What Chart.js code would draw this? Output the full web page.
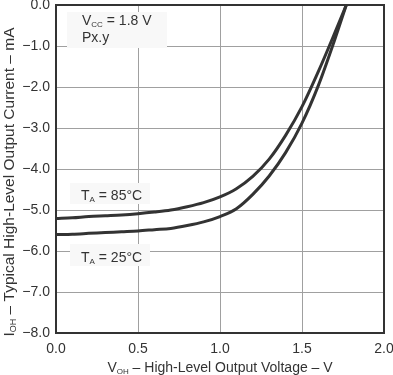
<!DOCTYPE html>
<html>
<head>
<meta charset="utf-8">
<script src="https://cdn.jsdelivr.net/npm/chart.js@4/dist/chart.umd.min.js"></script>
<style>
    html, body { margin: 0; padding: 0; background: #fff; }
    #wrap { width: 393px; height: 375px; position: relative; }
</style>
</head>
<body>
<div id="wrap"><canvas id="chart"></canvas></div>
<script>
// V_OH (V) vs I_OH (mA)
const voltage_85 = [0, 0.1, 0.2, 0.3, 0.4, 0.5, 0.6, 0.7, 0.8, 0.9, 1.0, 1.1, 1.2, 1.3, 1.4, 1.5, 1.6, 1.7, 1.77];
const current_85 = [-5.21, -5.19, -5.16, -5.14, -5.12, -5.09, -5.05, -5.0, -4.92, -4.82, -4.68, -4.48, -4.18, -3.76, -3.18, -2.48, -1.62, -0.68, 0];

const voltage_25 = [0, 0.1, 0.2, 0.3, 0.4, 0.5, 0.6, 0.7, 0.8, 0.9, 1.0, 1.1, 1.2, 1.3, 1.4, 1.5, 1.6, 1.7, 1.77];
const current_25 = [-5.60, -5.59, -5.57, -5.55, -5.53, -5.51, -5.48, -5.45, -5.38, -5.29, -5.16, -4.97, -4.62, -4.17, -3.60, -2.88, -1.96, -0.84, 0];

const x_ticks = [0, 0.5, 1.0, 1.5, 2.0];
const y_ticks = [0, -1, -2, -3, -4, -5, -6, -7, -8];

const FONT = '"Liberation Sans", Arial, sans-serif';
const INK = '#333';

function toPoints(xs, ys) {
    return xs.map((x, i) => ({ x: x, y: ys[i] }));
}

// main text, then a small subscript, then the rest
function subText(ctx, x, y, main, sub, rest, size) {
    ctx.font = `${size}px ${FONT}`;
    ctx.fillText(main, x, y);
    x += ctx.measureText(main).width;
    ctx.font = `${Math.round(size * 0.6)}px ${FONT}`;
    ctx.fillText(sub, x, y + 2);
    x += ctx.measureText(sub).width;
    ctx.font = `${size}px ${FONT}`;
    ctx.fillText(rest, x, y);
}

function subWidth(ctx, main, sub, rest, size) {
    ctx.font = `${size}px ${FONT}`;
    let w = ctx.measureText(main).width + ctx.measureText(rest).width;
    ctx.font = `${Math.round(size * 0.6)}px ${FONT}`;
    return w + ctx.measureText(sub).width;
}

const labelsPlugin = {
    id: 'labels',
    beforeDatasetsDraw(chart) {
        const ctx = chart.ctx;
        ctx.save();
        ctx.fillStyle = '#f8f8f8';
        ctx.fillRect(67, 12, 100, 36);
        ctx.fillRect(70, 183, 80, 21);
        ctx.fillRect(70, 244, 80, 22);

        ctx.fillStyle = INK;
        ctx.textBaseline = 'alphabetic';
        ctx.textAlign = 'left';
        subText(ctx, 82, 25, 'V', 'CC', ' = 1.8 V', 14);
        ctx.font = `14px ${FONT}`;
        ctx.fillText('Px.y', 82, 42);
        subText(ctx, 81, 200, 'T', 'A', ' = 85°C', 14);
        subText(ctx, 81, 262, 'T', 'A', ' = 25°C', 14);
        ctx.restore();
    },
    afterDraw(chart) {
        const ctx = chart.ctx;
        const a = chart.chartArea;
        ctx.save();
        ctx.strokeStyle = INK;
        ctx.lineWidth = 2;
        ctx.strokeRect(a.left, a.top, a.right - a.left, a.bottom - a.top);

        ctx.fillStyle = INK;
        ctx.textBaseline = 'alphabetic';
        ctx.textAlign = 'left';

        // x axis title
        let w = subWidth(ctx, 'V', 'OH', ' – High-Level Output Voltage – V', 14);
        subText(ctx, (a.left + a.right) / 2 - w / 2, 372, 'V', 'OH', ' – High-Level Output Voltage – V', 14);

        // y axis title
        ctx.translate(14, 182);
        ctx.rotate(-Math.PI / 2);
        w = subWidth(ctx, 'I', 'OH', ' – Typical High-Level Output Current – mA', 15.5);
        subText(ctx, -w / 2, 0, 'I', 'OH', ' – Typical High-Level Output Current – mA', 15.5);
        ctx.restore();
    }
};

const config = {
    type: 'scatter',
    data: {
        datasets: [{
            label: 'TA = 85°C',
            data: toPoints(voltage_85, current_85),
            showLine: true,
            borderColor: INK,
            borderWidth: 3,
            pointRadius: 0,
            cubicInterpolationMode: 'monotone'
        }, {
            label: 'TA = 25°C',
            data: toPoints(voltage_25, current_25),
            showLine: true,
            borderColor: INK,
            borderWidth: 3,
            pointRadius: 0,
            cubicInterpolationMode: 'monotone'
        }]
    },
    options: {
        responsive: true,
        maintainAspectRatio: false,
        animation: false,
        layout: { padding: { top: 5, right: 9, left: 0, bottom: 0 } },
        plugins: {
            legend: { display: false },
            tooltip: { enabled: false }
        },
        scales: {
            x: {
                type: 'linear',
                min: 0,
                max: 2,
                afterBuildTicks: scale => { scale.ticks = x_ticks.map(v => ({ value: v })); },
                afterFit: scale => { scale.height = 42; scale.paddingLeft = 0; scale.paddingRight = 0; },
                grid: { color: '#a0a0a0', lineWidth: 1, drawTicks: false },
                border: { display: false },
                ticks: {
                    padding: 8,
                    color: INK,
                    font: { family: FONT, size: 14 },
                    callback: v => v.toFixed(1)
                }
            },
            y: {
                type: 'linear',
                min: -8,
                max: 0,
                afterBuildTicks: scale => { scale.ticks = y_ticks.map(v => ({ value: v })); },
                afterFit: scale => { scale.width = 56; scale.paddingTop = 0; scale.paddingBottom = 0; },
                grid: { color: '#a0a0a0', lineWidth: 1, drawTicks: false },
                border: { display: false },
                ticks: {
                    padding: 6,
                    color: INK,
                    font: { family: FONT, size: 14 },
                    callback: v => (v === 0 ? '0.0' : '−' + Math.abs(v).toFixed(1))
                }
            }
        }
    },
    plugins: [labelsPlugin]
};

new Chart(document.getElementById('chart'), config);
</script>
</body>
</html>
